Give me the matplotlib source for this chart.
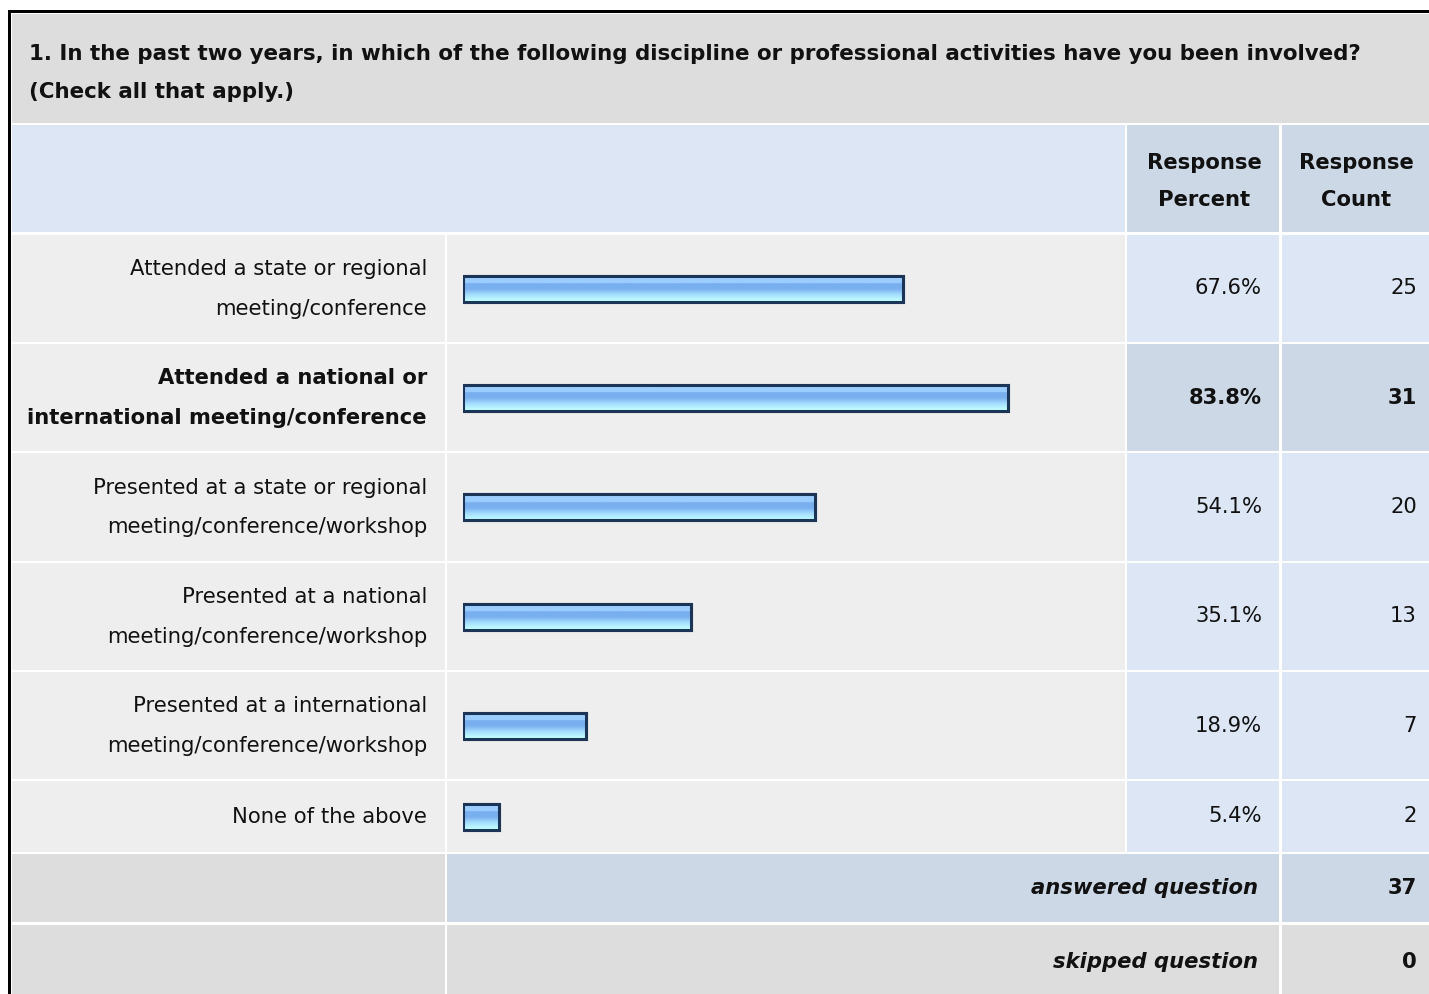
import matplotlib
matplotlib.use("Agg")
import matplotlib.pyplot as plt
import numpy as np
from matplotlib.patches import Rectangle
from matplotlib.colors import LinearSegmentedColormap

plt.rcParams['font.family'] = ['DejaVu Sans']

# Data
question = ("1. In the past two years, in which of the following discipline or professional activities have you been involved?\n"
            "(Check all that apply.)")
labels = ["Attended a state or regional\nmeeting/conference",
          "Attended a national or\ninternational meeting/conference",
          "Presented at a state or regional\nmeeting/conference/workshop",
          "Presented at a national\nmeeting/conference/workshop",
          "Presented at a international\nmeeting/conference/workshop",
          "None of the above"]
percents = [67.6, 83.8, 54.1, 35.1, 18.9, 5.4]
counts = [25, 31, 20, 13, 7, 2]
highlight = 1
answered = 37
skipped = 0

# Colours
GRAY = "#dddddd"
ROW_BG = "#eeeeee"
BLUE_LT = "#dce6f4"
BLUE_DK = "#ccd8e6"
BAR_EDGE = "#1c3557"
TXT = "#111111"
bar_cmap = LinearSegmentedColormap.from_list(
    "bar", [(0, "#9ccdff"), (0.3, "#9ccdff"), (0.32, "#79afee"), (0.52, "#79afee"),
            (0.6, "#86bdf5"), (0.75, "#a4dcfd"), (1.0, "#c2ffff")])

# Layout (pixels)
W, H = 1429, 994
cols = [(12, 445), (447, 1125), (1127, 1279), (1282, 1440)]
title_y = (14, 123)
head_y = (125, 232)
rows_y = [(235, 342), (344, 451), (453, 561), (563, 670), (672, 779), (781, 852)]
ans_y = (854, 922)
skip_y = (925, 1000)
bar_x0, bar_x100 = 463.5, 1113
FS = 15.2

fig = plt.figure(figsize=(W / 100, H / 100), dpi=100)
fig.patch.set_facecolor("white")
ax = fig.add_axes([0, 0, 1, 1])
ax.set_xlim(0, W)
ax.set_ylim(H, 0)
ax.axis("off")


def cell(x0, x1, y0, y1, color):
    ax.add_patch(Rectangle((x0, y0), x1 - x0, y1 - y0, facecolor=color, edgecolor="none"))


# outer border
ax.add_patch(Rectangle((8, 10), W, 3, facecolor="black", edgecolor="none"))
ax.add_patch(Rectangle((8, 10), 3, H, facecolor="black", edgecolor="none"))

# title
cell(12, W + 10, *title_y, GRAY)
ax.text(29, 73, question, fontsize=15.4, fontweight="bold", ha="left", va="center",
        linespacing=2.12, color=TXT)

# header row
cell(12, cols[1][1], *head_y, BLUE_LT)
cell(*cols[2], *head_y, BLUE_DK)
cell(*cols[3], *head_y, BLUE_DK)
hc = (head_y[0] + head_y[1]) / 2 + 3
ax.text((cols[2][0] + cols[2][1]) / 2 + 1, hc, "Response\nPercent", fontsize=FS, fontweight="bold",
        ha="center", va="center", linespacing=2.12, color=TXT)
ax.text((cols[3][0] + 1429) / 2 + 1, hc, "Response\nCount", fontsize=FS, fontweight="bold",
        ha="center", va="center", linespacing=2.12, color=TXT)

# answer rows
centers = []
for i, (lab, pct, cnt) in enumerate(zip(labels, percents, counts)):
    y0, y1 = rows_y[i]
    yc = (y0 + y1) / 2
    centers.append(yc)
    blue = BLUE_DK if i == highlight else BLUE_LT
    cell(*cols[0], y0, y1, ROW_BG)
    cell(*cols[1], y0, y1, ROW_BG)
    cell(*cols[2], y0, y1, blue)
    cell(*cols[3], y0, y1, blue)
    fw = "bold" if i == highlight else "normal"
    ax.text(427, yc + 0.5, lab, fontsize=FS, fontweight=fw, ha="right", va="center",
            linespacing=2.2, color=TXT)
    ax.text(1262, yc, f"{pct}%", fontsize=FS, fontweight=fw, ha="right", va="center", color=TXT)
    ax.text(1417, yc, str(cnt), fontsize=FS, fontweight=fw, ha="right", va="center", color=TXT)

# answered / skipped
cell(*cols[0], *ans_y, GRAY)
cell(cols[1][0], cols[2][1], *ans_y, BLUE_DK)
cell(*cols[3], *ans_y, BLUE_DK)
cell(*cols[0], *skip_y, GRAY)
cell(cols[1][0], cols[2][1], *skip_y, GRAY)
cell(*cols[3], *skip_y, GRAY)
for (y0, y1), txt, val in [(ans_y, "answered question", answered), (skip_y, "skipped question", skipped)]:
    yc = (y0 + min(y1, H)) / 2 + (3 if y1 > H else 0)
    ax.text(1258, yc, txt, fontsize=FS, fontweight="bold", style="italic", ha="right", va="center",
            color=TXT)
    ax.text(1417, yc, str(val), fontsize=FS, fontweight="bold", ha="right", va="center", color=TXT)

# bars on a percent scale
bax = fig.add_axes([bar_x0 / W, 0, (bar_x100 - bar_x0) / W, 1])
bax.set_xlim(0, 100)
bax.set_ylim(H, 0)
bax.axis("off")
bars = bax.barh(centers, percents, height=26, left=0, color="#8cc2f6",
                edgecolor=BAR_EDGE, linewidth=2.2, zorder=3)
grad = np.linspace(0, 1, 64).reshape(-1, 1)
for b in bars:
    x0, y0 = b.get_x(), b.get_y()
    im = bax.imshow(grad, cmap=bar_cmap, aspect="auto", zorder=3.5,
                    extent=[x0, x0 + b.get_width(), y0 + b.get_height(), y0])
    im.set_clip_path(b)
    bax.add_patch(Rectangle((x0, y0), b.get_width(), b.get_height(), facecolor="none",
                            edgecolor=BAR_EDGE, linewidth=2.2, zorder=4))
bax.set_xlim(0, 100)
bax.set_ylim(H, 0)

fig.savefig("out.png", dpi=100, facecolor="white")
